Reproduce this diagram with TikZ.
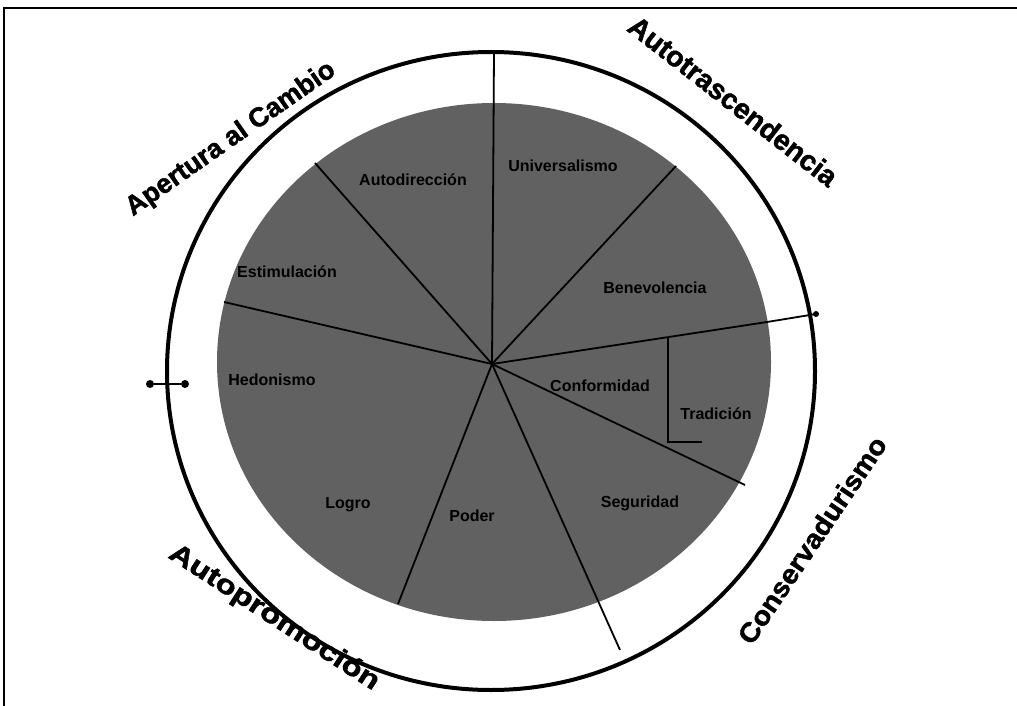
\documentclass[tikz,border=0pt]{standalone}
\usepackage{fontspec}
\setmainfont{Liberation Sans}
\newfontfamily\heavyfont[BoldFeatures={FakeBold=1.6}]{Liberation Sans}
\begin{document}
\begin{tikzpicture}[x=1pt,y=-1pt,
  outerlbl/.style={font=\heavyfont\bfseries\fontsize{27}{27}\selectfont, inner sep=0pt},
  innerlbl/.style={font=\fontsize{16}{16}\selectfont\bfseries, inner sep=0pt, text=black},
  radial/.style={line width=1.8pt},
  frameline/.style={line width=2pt},
  marker/.style={circle, fill=black, inner sep=0pt, minimum size=8pt},
]
\useasboundingbox (0,0) rectangle (1017,706);
\draw[frameline] (4,706) -- (4,8) -- (1017,8);
% outer ring and inner disk
\draw[line width=4pt] (491,371) ellipse [x radius=324, y radius=319];
\fill[black!62] (494,362) ellipse [x radius=277, y radius=259];
% centre and rim points
\coordinate (O) at (492,364);
\coordinate (pTop) at (494,52);
\coordinate (pUL) at (315,163);
\coordinate (pUR) at (676,166);
\coordinate (pRin) at (767,322);
\coordinate (pRout) at (816,314);
\coordinate (pLR) at (745,485);
\coordinate (pBR) at (620,650);
\coordinate (pBL) at (398,604);
\coordinate (pL) at (224,302);
\draw[radial] (O) -- (pTop);
\draw[radial] (O) -- (pUL);
\draw[radial] (O) -- (pUR);
\draw[radial] (O) -- (pRin) -- (pRout);
\draw[radial] (O) -- (pLR);
\draw[radial] (O) -- (pBR);
\draw[radial] (O) -- (pBL);
\draw[radial] (O) -- (pL);
% box near Tradicion
\coordinate (b1) at (668,338);
\coordinate (b2) at (668,442);
\coordinate (b3) at (702,442);
\draw[radial] (b1) -- (b2) -- (b3);
% markers
\node[marker, minimum size=6pt] (mR) at (pRout) {};
\node[marker] (mL1) at (150,384) {};
\node[marker] (mL2) at (185,384) {};
\draw[line width=2pt] (mL1) -- (mL2);
% inner labels
\node[innerlbl] (autodir) at (413,180) {Autodirección};
\node[innerlbl] (univ) at (563,166) {Universalismo};
\node[innerlbl] (estim) at (287,272) {Estimulación};
\node[innerlbl] (hedon) at (272,380) {Hedonismo};
\node[innerlbl] (benev) at (655,288) {Benevolencia};
\node[innerlbl] (conf) at (600,386) {Conformidad};
\node[innerlbl] (trad) at (716,414) {Tradición};
\node[innerlbl] (segur) at (640,503) {Seguridad};
\node[innerlbl] (poder) at (472,516) {Poder};
\node[innerlbl] (logro) at (348,505) {Logro};
% outer labels
\node[outerlbl, anchor=base, rotate=35] (apert) at (235,145) {Apertura al Cambio};
\node[outerlbl, anchor=base, rotate=-38, font=\heavyfont\bfseries\fontsize{28.5}{28.5}\selectfont] (autotr) at (727,109) {Autotrascendencia};
\node[outerlbl, rotate=56] (conserv) at (812,540) {\scalebox{1.06}[1]{Conservadurismo}};
\node[outerlbl, rotate=-33] (autoprom) at (274,618) {\scalebox{1.22}[1]{Autopromoción}};
\end{tikzpicture}
\end{document}
